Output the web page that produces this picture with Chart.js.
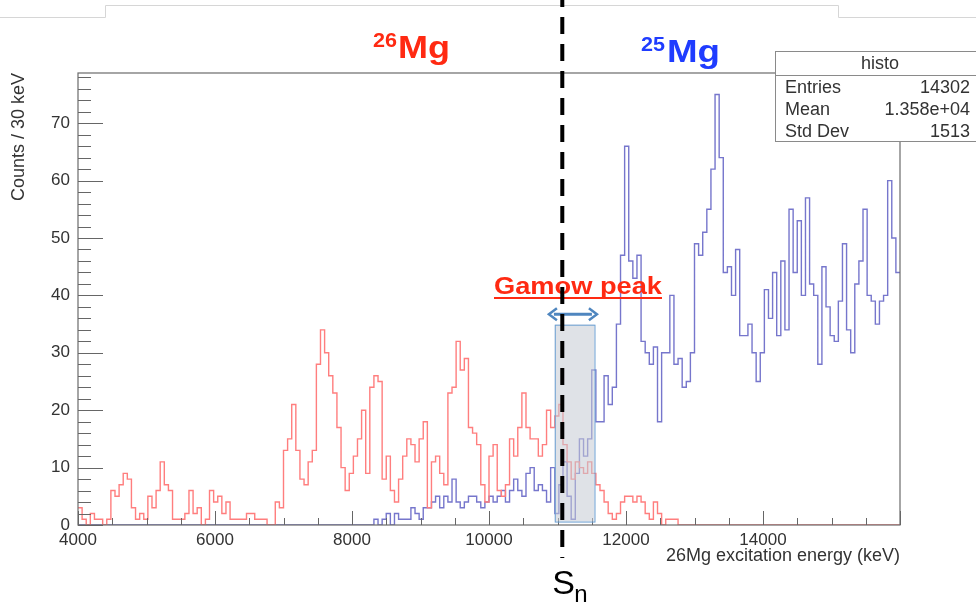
<!DOCTYPE html>
<html>
<head>
<meta charset="utf-8">
<script src="https://cdn.jsdelivr.net/npm/chart.js@4.4.1/dist/chart.umd.min.js"></script>
<style>
  html, body { margin: 0; padding: 0; background: #fff; }
  canvas { display: block; }
</style>
</head>
<body>
<canvas id="histo" width="976" height="607"></canvas>
<script>

/* 26Mg / 25Mg excitation histograms, counts per bin, bins start at 4000 keV */
const binStart = 4000;
const binWidth = 60;

const counts26Mg = [
  3, 1, 0, 2, 1, 1, 0, 1, 6, 5,
  7, 9, 8, 3, 1, 2, 1, 5, 3, 6,
  11, 7, 6, 1, 1, 1, 2, 6, 2, 3,
  0, 1, 6, 4, 5, 2, 4, 1, 1, 1,
  1, 2, 2, 1, 1, 1, 0, 0, 4, 3,
  13, 15, 21, 13, 8, 7, 11, 13, 28, 34,
  30, 26, 23, 17, 10, 6, 9, 12, 15, 20,
  9, 24, 26, 25, 8, 12, 6, 4, 8, 12,
  15, 14, 11, 15, 18, 3, 11, 12, 9, 7,
  23, 24, 32, 27, 29, 17, 16, 14, 7, 4,
  12, 14, 6, 5, 7, 15, 12, 17, 23, 17,
  15, 15, 12, 14, 20, 17, 19, 21, 14, 11,
  8, 11, 10, 9, 11, 9, 7, 6, 4, 2,
  1, 2, 4, 5, 5, 4, 5, 4, 2, 1,
  4, 2, 0, 1, 1, 1, 0, 0, 0, 0,
  0, 0, 0, 0, 0, 0, 0, 0, 0, 0,
  0, 0, 0, 0, 0, 0, 0, 0, 0, 0,
  0, 0, 0, 0, 0, 0, 0, 0, 0, 0,
  0, 0, 0, 0, 0, 0, 0, 0, 0, 0,
  0, 0, 0, 0, 0, 0, 0, 0, 0, 0
];

const counts25Mg = [
  0, 0, 0, 0, 0, 0, 0, 0, 0, 0,
  0, 0, 0, 0, 0, 0, 0, 0, 0, 0,
  0, 0, 0, 0, 0, 0, 0, 0, 0, 0,
  0, 0, 0, 0, 0, 0, 0, 0, 0, 0,
  0, 0, 0, 0, 0, 0, 0, 0, 0, 0,
  0, 0, 0, 0, 0, 0, 0, 0, 0, 0,
  0, 0, 0, 0, 0, 0, 0, 0, 0, 0,
  0, 0, 1, 0, 1, 2, 0, 2, 1, 1,
  1, 3, 2, 1, 3, 3, 4, 5, 3, 5,
  4, 8, 4, 3, 4, 5, 5, 4, 3, 4,
  5, 4, 5, 6, 4, 6, 8, 6, 5, 9,
  10, 6, 7, 6, 4, 10, 2, 7, 11, 5,
  1, 9, 15, 12, 15, 27, 18, 18, 26, 21,
  24, 35, 47, 66, 46, 43, 47, 32, 30, 28,
  31, 18, 30, 30, 40, 28, 29, 24, 25, 30,
  49, 47, 51, 55, 62, 75, 64, 44, 45, 40,
  48, 33, 33, 35, 30, 25, 30, 41, 36, 44,
  33, 46, 34, 55, 44, 53, 40, 57, 42, 40,
  28, 45, 38, 33, 32, 39, 49, 34, 30, 42,
  46, 55, 40, 39, 35, 39, 40, 60, 50, 44
];

const xTickValues = [4000, 6000, 8000, 10000, 12000, 14000];
const yTickValues = [0, 10, 20, 30, 40, 50, 60, 70];

const statsTitle = 'histo';
const statsNames = ['Entries', 'Mean', 'Std Dev'];
const statsValues = ['14302', '1.358e+04', '1513'];

const sepEnergy = 11070;          // S_n marker
const gamowWindow = [10960, 11540];
const gamowArrow = [10860, 11590];

/* step points: each bin value held to the next edge */
function toSteps(counts) {
    const pts = counts.map((c, i) => ({ x: binStart + i * binWidth, y: c }));
    pts.push({ x: binStart + counts.length * binWidth, y: counts[counts.length - 1] });
    return pts;
}

function fitText(ctx, text, x, y, width) {
    const w = ctx.measureText(text).width;
    ctx.save();
    ctx.translate(x, y);
    ctx.scale(width / w, 1);
    ctx.fillText(text, 0, 0);
    ctx.restore();
}

const rootStyle = {
    id: 'rootStyle',
    afterDatasetsDraw(chart) {
        const ctx = chart.ctx;
        const a = chart.chartArea;
        const xs = chart.scales.x;
        const ys = chart.scales.y;

        ctx.save();
        // frame
        ctx.strokeStyle = '#6b6b6b';
        ctx.lineWidth = 1.2;
        ctx.strokeRect(a.left, a.top, a.right - a.left, a.bottom - a.top);

        // ticks inside the frame
        ctx.strokeStyle = '#666';
        ctx.lineWidth = 1;
        ctx.beginPath();
        for (let v = 4000; v <= 16000; v += 500) {
            const px = Math.round(xs.getPixelForValue(v)) + 0.5;
            const len = v % 2000 === 0 ? 14 : 7;
            ctx.moveTo(px, a.bottom);
            ctx.lineTo(px, a.bottom - len);
        }
        for (let v = 0; v <= 78; v += 2) {
            const py = Math.round(ys.getPixelForValue(v)) + 0.5;
            const len = v % 10 === 0 ? 25 : 13;
            ctx.moveTo(a.left, py);
            ctx.lineTo(a.left + len, py);
        }
        ctx.stroke();

        // Gamow window box
        const gx0 = xs.getPixelForValue(gamowWindow[0]);
        const gx1 = xs.getPixelForValue(gamowWindow[1]);
        const gy0 = ys.getPixelForValue(34.9);
        const gy1 = ys.getPixelForValue(0.6);
        ctx.fillStyle = 'rgba(196, 202, 212, 0.55)';
        ctx.fillRect(gx0, gy0, gx1 - gx0, gy1 - gy0);
        ctx.strokeStyle = '#6a9fd2';
        ctx.lineWidth = 1;
        ctx.strokeRect(gx0 + 0.5, gy0 + 0.5, gx1 - gx0, gy1 - gy0);

        // double arrow
        const ax0 = xs.getPixelForValue(gamowArrow[0]);
        const ax1 = xs.getPixelForValue(gamowArrow[1]);
        const ay = ys.getPixelForValue(36.7);
        ctx.strokeStyle = '#4f86bf';
        ctx.fillStyle = '#4f86bf';
        ctx.lineWidth = 3;
        ctx.beginPath();
        ctx.moveTo(ax0 + 6, ay);
        ctx.lineTo(ax1 - 6, ay);
        ctx.stroke();
        ctx.lineWidth = 2.5;
        ctx.beginPath();
        ctx.moveTo(ax0 + 9, ay - 6);
        ctx.lineTo(ax0 + 1, ay);
        ctx.lineTo(ax0 + 9, ay + 6);
        ctx.moveTo(ax1 - 9, ay - 6);
        ctx.lineTo(ax1 - 1, ay);
        ctx.lineTo(ax1 - 9, ay + 6);
        ctx.stroke();

        // Gamow peak label
        ctx.fillStyle = '#ff2a12';
        ctx.font = 'bold 23px "Liberation Sans", Arial, sans-serif';
        ctx.textBaseline = 'alphabetic';
        ctx.textAlign = 'left';
        fitText(ctx, 'Gamow peak', 494, 294, 168);
        ctx.fillRect(494, 297, 168, 2);
        ctx.restore();
    },
    afterDraw(chart) {
        const ctx = chart.ctx;
        const xs = chart.scales.x;
        ctx.save();

        // slide top edge
        ctx.strokeStyle = '#d6d6d6';
        ctx.lineWidth = 1;
        ctx.beginPath();
        ctx.moveTo(0, 17.5);
        ctx.lineTo(105.5, 17.5);
        ctx.lineTo(105.5, 5.5);
        ctx.lineTo(838.5, 5.5);
        ctx.lineTo(838.5, 17.5);
        ctx.lineTo(976, 17.5);
        ctx.stroke();

        // isotope labels
        ctx.textBaseline = 'alphabetic';
        ctx.textAlign = 'left';
        ctx.fillStyle = '#ff2a12';
        ctx.font = 'bold 21px "Liberation Sans", Arial, sans-serif';
        fitText(ctx, '26', 373, 47, 24);
        ctx.font = 'bold 32px "Liberation Sans", Arial, sans-serif';
        fitText(ctx, 'Mg', 398, 58, 52);
        ctx.fillStyle = '#1f3cff';
        ctx.font = 'bold 21px "Liberation Sans", Arial, sans-serif';
        fitText(ctx, '25', 641, 51, 24);
        ctx.font = 'bold 32px "Liberation Sans", Arial, sans-serif';
        fitText(ctx, 'Mg', 667, 62, 53);

        // S_n dashed line
        const sx = xs.getPixelForValue(sepEnergy);
        ctx.strokeStyle = '#000';
        ctx.lineWidth = 4;
        ctx.setLineDash([17, 10]);
        ctx.beginPath();
        ctx.moveTo(sx, -10);
        ctx.lineTo(sx, 558);
        ctx.stroke();
        ctx.setLineDash([]);

        ctx.fillStyle = '#000';
        ctx.font = '34px "Liberation Sans", Arial, sans-serif';
        ctx.fillText('S', sx - 10, 594);
        ctx.font = '24px "Liberation Sans", Arial, sans-serif';
        ctx.fillText('n', sx + 12, 602);

        // stats box
        const bx = 775.5, by = 51.5, bw = 205, bh = 90;
        ctx.fillStyle = '#fff';
        ctx.fillRect(bx, by, bw, bh);
        ctx.strokeStyle = '#8a8a8a';
        ctx.lineWidth = 1;
        ctx.strokeRect(bx, by, bw, bh);
        ctx.beginPath();
        ctx.moveTo(bx, 75.5);
        ctx.lineTo(bx + bw, 75.5);
        ctx.stroke();
        ctx.fillStyle = '#333';
        ctx.font = '18px "Liberation Sans", Arial, sans-serif';
        ctx.textBaseline = 'middle';
        ctx.textAlign = 'center';
        ctx.fillText(statsTitle, 880, 64);
        statsNames.forEach((name, i) => {
            const ty = 88 + i * 22;
            ctx.textAlign = 'left';
            ctx.fillText(name, 785, ty);
            ctx.textAlign = 'right';
            ctx.fillText(statsValues[i], 970, ty);
        });
        ctx.restore();
    }
};

const ctx = document.getElementById('histo').getContext('2d');
const chart = new Chart(ctx, {
    type: 'line',
    data: {
        datasets: [{
            label: '26Mg',
            data: toSteps(counts26Mg),
            stepped: true,
            borderColor: '#ff7e7e',
            borderWidth: 1.4,
            pointRadius: 0,
            fill: false
        }, {
            label: '25Mg',
            data: toSteps(counts25Mg),
            stepped: true,
            borderColor: '#7676cc',
            borderWidth: 1.4,
            pointRadius: 0,
            fill: false
        }]
    },
    options: {
        responsive: false,
        animation: false,
        devicePixelRatio: 1,
        layout: { padding: { left: 0, right: 76, top: 73, bottom: 0 } },
        plugins: {
            legend: { display: false },
            tooltip: { enabled: false }
        },
        scales: {
            x: {
                type: 'linear',
                min: 4000,
                max: 16000,
                grid: { display: false, drawTicks: false },
                border: { display: false },
                afterBuildTicks: s => { s.ticks = xTickValues.map(v => ({ value: v })); },
                afterFit: s => { s.height = 82; },
                ticks: {
                    font: { family: '"Liberation Sans", Arial, sans-serif', size: 17 },
                    color: '#333',
                    padding: 5,
                    maxRotation: 0,
                    callback: v => String(v)
                },
                title: {
                    display: true,
                    text: '26Mg excitation energy (keV)',
                    align: 'end',
                    color: '#333',
                    font: { family: '"Liberation Sans", Arial, sans-serif', size: 18 },
                    padding: { top: 0, bottom: 40 }
                }
            },
            y: {
                min: 0,
                max: 78.75,
                grid: { display: false, drawTicks: false },
                border: { display: false },
                afterBuildTicks: s => { s.ticks = yTickValues.map(v => ({ value: v })); },
                afterFit: s => { s.width = 78; },
                ticks: {
                    font: { family: '"Liberation Sans", Arial, sans-serif', size: 17 },
                    color: '#333',
                    padding: 8
                },
                title: {
                    display: true,
                    text: 'Counts / 30 keV',
                    align: 'end',
                    color: '#333',
                    font: { family: '"Liberation Sans", Arial, sans-serif', size: 18 },
                    padding: { top: 8, bottom: 0 }
                }
            }
        }
    },
    plugins: [rootStyle]
});

</script>
</body>
</html>
